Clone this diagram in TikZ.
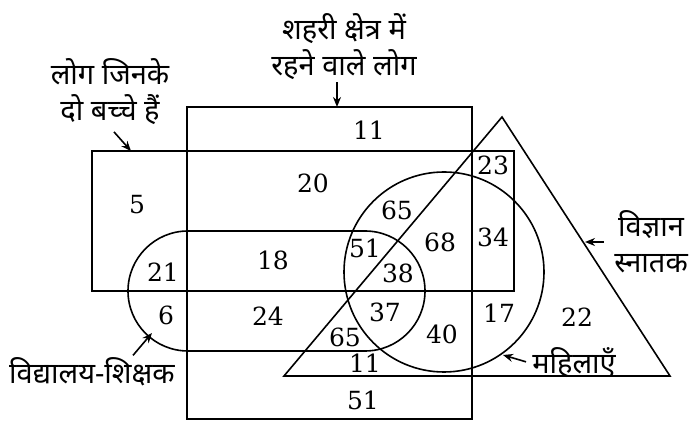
\documentclass[tikz,border=0pt]{standalone}
\usepackage{fontspec}
\newfontfamily\hindi[Script=Devanagari]{Noto Sans}
\newfontfamily\numfont{DejaVu Serif}
\usepackage{tikz}
\usetikzlibrary{arrows.meta}
\tikzset{
  region/.style={draw, line width=0.8pt},
  count/.style={font=\numfont\fontsize{12.5}{14}\selectfont, inner sep=1pt},
  setlabel/.style={font=\hindi\fontsize{14.5}{18}\selectfont, align=center, inner sep=1pt},
  pointer/.style={-{Stealth[length=5pt, width=4pt]}, line width=0.8pt}
}
\begin{document}
\begin{tikzpicture}[x=0.5pt, y=0.5pt]
\useasboundingbox (0,0) rectangle (696,422);
% sets
\draw[region] (187,3) rectangle (472,315);
\draw[region] (92,131) rectangle (514,271);
\draw[region] (188,191) -- (365,191) arc[start angle=90, end angle=-90, radius=60]
  -- (188,71) arc[start angle=270, end angle=90, radius=60] -- cycle;
\draw[region] (444,150) circle[radius=100];
\draw[region] (284,46) -- (502,305) -- (670,46) -- cycle;
% counts
\node[count] (n11top) at (369,292) {11};
\node[count] (n20) at (313,239) {20};
\node[count] (n5) at (137,217) {5};
\node[count] (n23) at (493,257) {23};
\node[count] (n65top) at (397,212) {65};
\node[count] (n68) at (440,180) {68};
\node[count] (n34) at (493,185) {34};
\node[count] (n51) at (365,174) {51};
\node[count] (n38) at (398,149) {38};
\node[count] (n18) at (273,162) {18};
\node[count] (n21) at (163,150) {21};
\node[count] (n6) at (166,107) {6};
\node[count] (n24) at (268,106) {24};
\node[count] (n37) at (385,110) {37};
\node[count] (n65low) at (345,85) {65};
\node[count] (n40) at (442,88) {40};
\node[count] (n17) at (499,109) {17};
\node[count] (n22) at (577,105) {22};
\node[count] (n11low) at (365,59) {11};
\node[count] (n51low) at (363,22) {51};
% labels
\node[setlabel] (urbanlbl) at (344,375) {शहरी क्षेत्र में\\रहने वाले लोग};
\node[setlabel] (kidslbl) at (110,330) {लोग जिनके\\दो बच्चे हैं};
\node[setlabel] (teachlbl) at (92,50) {विद्यालय-शिक्षक};
\node[setlabel] (scilbl) at (651,180) {विज्ञान\\स्नातक};
\node[setlabel] (womenlbl) at (574,59) {महिलाएँ};
\coordinate (urbantip) at (337,315);
\coordinate (kidstip) at (131,271);
\coordinate (teachtip) at (152,89);
\coordinate (scitip) at (585,180);
\coordinate (womentip) at (503,67);
\draw[pointer] (urbanlbl.south -| urbantip) -- (urbantip);
\draw[pointer, shorten <=3pt] (kidslbl.south) -- (kidstip);
\draw[pointer] ([xshift=20.5pt]teachlbl.north) -- (teachtip);
\draw[pointer, shorten <=4pt] (scilbl.west) -- (scitip);
\draw[pointer, shorten <=2pt] (womenlbl.west) -- (womentip);
\end{tikzpicture}
\end{document}
